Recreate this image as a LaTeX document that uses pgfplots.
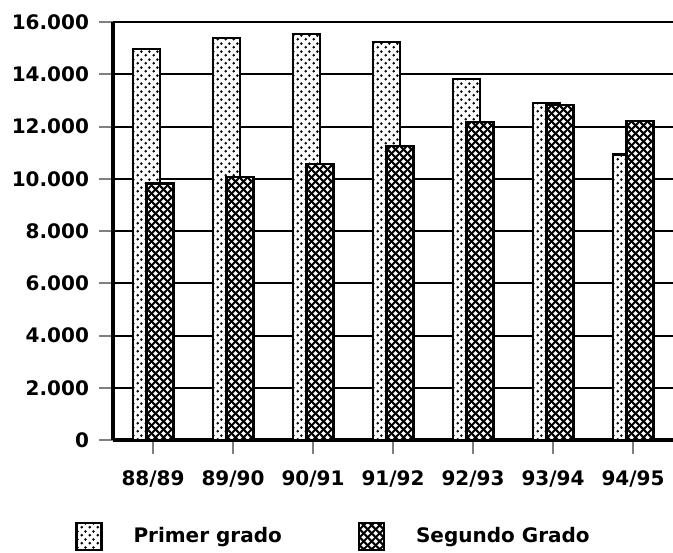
\documentclass[border=0pt]{standalone}
\usepackage{fontspec}
\setmainfont{DejaVu Sans}
\usepackage{pgfplots}
\pgfplotsset{compat=1.18}
\usetikzlibrary{patterns.meta}

% light dotted fill (Primer grado)
\pgfdeclarepattern{
  name=primerdots,
  type=uncolored,
  bottom left={\pgfpoint{0pt}{0pt}},
  top right={\pgfpoint{4pt}{4pt}},
  tile size={\pgfpoint{4pt}{4pt}},
  code={
    \pgfpathcircle{\pgfpoint{1pt}{1pt}}{0.8pt}
    \pgfpathcircle{\pgfpoint{3pt}{3pt}}{0.8pt}
    \pgfusepath{fill}
  }
}
% dark crosshatch fill (Segundo Grado)
\pgfdeclarepattern{
  name=segundohatch,
  type=uncolored,
  bottom left={\pgfpoint{0pt}{0pt}},
  top right={\pgfpoint{4pt}{4pt}},
  tile size={\pgfpoint{4pt}{4pt}},
  code={
    \pgfsetlinewidth{1.1pt}
    \pgfpathmoveto{\pgfpoint{-0.5pt}{-0.5pt}}\pgfpathlineto{\pgfpoint{4.5pt}{4.5pt}}
    \pgfpathmoveto{\pgfpoint{-0.5pt}{4.5pt}}\pgfpathlineto{\pgfpoint{4.5pt}{-0.5pt}}
    \pgfusepath{stroke}
  }
}

\begin{document}
\begin{tikzpicture}
\begin{axis}[
  scale only axis,
  width=280pt, height=209pt,
  xmin=-0.5, xmax=6.5,
  ymin=0, ymax=16000,
  ybar, bar width=13.5pt,
  axis x line=bottom, axis y line=left,
  axis line style={-, line width=1.6pt},
  ytick={0,2000,...,16000},
  ymajorgrids,
  grid style={black, line width=1pt},
  tick align=outside,
  major tick length=7pt,
  ytick style={line width=1pt},
  xtick style={line width=0.6pt},
  xtick={0,...,6},
  xticklabels={88/89,89/90,90/91,91/92,92/93,93/94,94/95},
  scaled y ticks=false,
  /pgf/number format/.cd, 1000 sep={.}, assume math mode=true,
  /pgfplots/.cd,
  tick label style={font=\bfseries\fontsize{10}{12}\selectfont},
  xticklabel style={yshift=-5pt},
  yticklabel style={xshift=-1.5pt},
  legend style={at={(axis description cs:-0.068,-0.194)}, anchor=north west,
    draw=none, inner sep=0pt, font=\bfseries\fontsize{10}{12}\selectfont,
    /tikz/every odd column/.append style={column sep=13.5pt},
    /tikz/every even column/.append style={column sep=36pt}},
  legend columns=2,
  legend image code/.code={\draw[#1] (0pt,-6.5pt) rectangle (12.5pt,7pt);},
]
\addplot[bar shift=-3.25pt, draw=black, line width=1.1pt, fill=white,
  postaction={pattern=primerdots}] coordinates {
  (0,14970) (1,15400) (2,15530) (3,15220) (4,13820) (5,12890) (6,10930)
};
\addlegendentry{Primer grado}
\addplot[bar shift=3.5pt, draw=black, line width=1.1pt, fill=white,
  postaction={pattern=segundohatch}] coordinates {
  (0,9820) (1,10080) (2,10560) (3,11260) (4,12180) (5,12810) (6,12220)
};
\addlegendentry{Segundo Grado}
\coordinate (tl) at (rel axis cs:0,1);
\coordinate (br) at (rel axis cs:1,0);
\end{axis}
\pgfresetboundingbox
\path ([xshift=-56.5pt,yshift=11pt]tl) rectangle ([yshift=-56pt]br);
\end{tikzpicture}
\end{document}
